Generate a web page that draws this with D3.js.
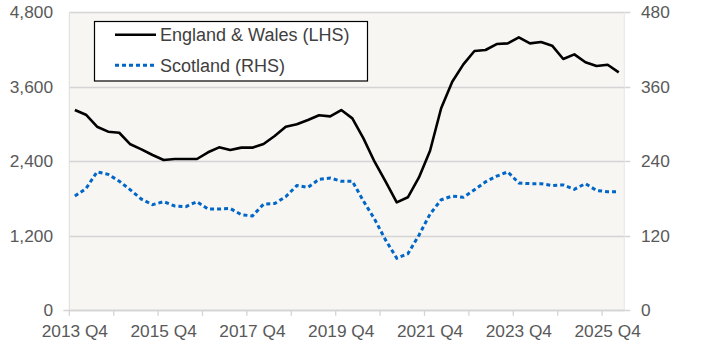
<!DOCTYPE html>
<html><head><meta charset="utf-8">
<script src="https://cdn.jsdelivr.net/npm/d3@7"></script>
<style>body{margin:0;background:#fff}svg{display:block}text{font-family:"Liberation Sans",Arial,sans-serif}</style>
</head><body><svg id="c" width="711" height="347"></svg>
<script>
const categories = [];
for (let y = 2013, q = 4; categories.length < 50; ) { categories.push(y + " Q" + q); q++; if (q > 4) { q = 1; y++; } }
const englandWales = [3226,3150,2957,2877,2860,2674,2593,2501,2421,2437,2437,2437,2545,2625,2582,2620,2620,2678,2807,2957,2996,3065,3141,3124,3226,3092,2770,2393,2071,1739,1820,2140,2570,3254,3682,3962,4177,4193,4289,4300,4397,4300,4322,4262,4048,4123,3995,3935,3956,3833];
const scotland = [184,196,223,219,208,194,179,170,175,168,167,175,163,163,164,154,152,171,172,183,201,198,211,213,208,208,176,147,113,84,91,121,155,178,184,182,194,207,216,223,205,204,204,201,202,195,204,193,191,191];
const leftTicks = [0,1200,2400,3600,4800];
const rightTicks = [0,120,240,360,480];
const xLabels = ["2013 Q4","2015 Q4","2017 Q4","2019 Q4","2021 Q4","2023 Q4","2025 Q4"];
const seriesNames = ["England & Wales (LHS)","Scotland (RHS)"];

const svg = d3.select("#c");
const L = 69.3, R = 624.3, T = 12.3, B = 310.3;
const x = d3.scaleBand().domain(categories).range([L, R]);
const yL = d3.scaleLinear().domain([0,4800]).range([B, T]);
const yR = d3.scaleLinear().domain([0,480]).range([B, T]);
const gray = "#595959", fs = "17.3px";

svg.append("rect").attr("x", L).attr("y", T).attr("width", R-L).attr("height", B-T).attr("fill", "#f7f6f3");
svg.append("g").selectAll("line").data(leftTicks).join("line")
  .attr("x1", L).attr("x2", R+6).attr("y1", d=>Math.round(yL(d))+0.5).attr("y2", d=>Math.round(yL(d))+0.5)
  .attr("stroke", "#d4d4d4").attr("stroke-width", 1.3);
svg.append("line").attr("x1", L-6).attr("x2", R).attr("y1", Math.round(B)+0.5).attr("y2", Math.round(B)+0.5).attr("stroke","#d4d4d4").attr("stroke-width",1.3);
svg.append("line").attr("x1", L).attr("x2", L).attr("y1", T).attr("y2", B).attr("stroke","#dcdcdc").attr("stroke-width",1);
svg.append("line").attr("x1", R).attr("x2", R).attr("y1", T).attr("y2", B).attr("stroke","#e6e6e6").attr("stroke-width",1);
const tickIdx = d3.range(0, 49, 4);
svg.append("g").selectAll("line").data(tickIdx).join("line")
  .attr("x1", i=>x(categories[i])).attr("x2", i=>x(categories[i]))
  .attr("y1", B).attr("y2", B+5.5).attr("stroke","#d4d4d4").attr("stroke-width",1.3);
svg.append("g").selectAll("text").data(leftTicks).join("text")
  .attr("x", 53).attr("y", d=>yL(d)).attr("dy","0.35em").attr("text-anchor","end")
  .attr("fill", gray).style("font-size", fs).text(d=>d3.format(",")(d));
svg.append("g").selectAll("text").data(rightTicks).join("text")
  .attr("x", 641).attr("y", d=>yR(d)).attr("dy","0.35em").attr("text-anchor","start")
  .attr("fill", gray).style("font-size", fs).text(d=>d);
svg.append("g").selectAll("text").data(xLabels).join("text")
  .attr("x", d=>x(d)+x.bandwidth()/2).attr("y", 336.5).attr("text-anchor","middle")
  .attr("fill", gray).style("font-size", fs).text(d=>d);

const cx = (d,i)=>x(categories[i])+x.bandwidth()/2;
svg.append("path").datum(scotland)
  .attr("d", d3.line().x(cx).y(d=>yR(d)))
  .attr("fill","none").attr("stroke","#0066c8").attr("stroke-width",3).attr("stroke-dasharray","4,3");
svg.append("path").datum(englandWales)
  .attr("d", d3.line().x(cx).y(d=>yL(d)))
  .attr("fill","none").attr("stroke","#000").attr("stroke-width",2.6).attr("stroke-linejoin","round");

const lg = svg.append("g");
lg.append("rect").attr("x",94.5).attr("y",21.5).attr("width",273).attr("height",59.5).attr("fill","#fff").attr("stroke","#000").attr("stroke-width",1.2);
lg.append("line").attr("x1",115).attr("x2",156).attr("y1",34.7).attr("y2",34.7).attr("stroke","#000").attr("stroke-width",2.6);
lg.append("line").attr("x1",115).attr("x2",156).attr("y1",65.3).attr("y2",65.3).attr("stroke","#0066c8").attr("stroke-width",3).attr("stroke-dasharray","4,3");
lg.selectAll("text").data(seriesNames).join("text")
  .attr("x",160).attr("y",(d,i)=>i?65.3:34.7).attr("dy","0.36em")
  .attr("fill", "#404040").style("font-size","18px").text(d=>d);
</script></body></html>
